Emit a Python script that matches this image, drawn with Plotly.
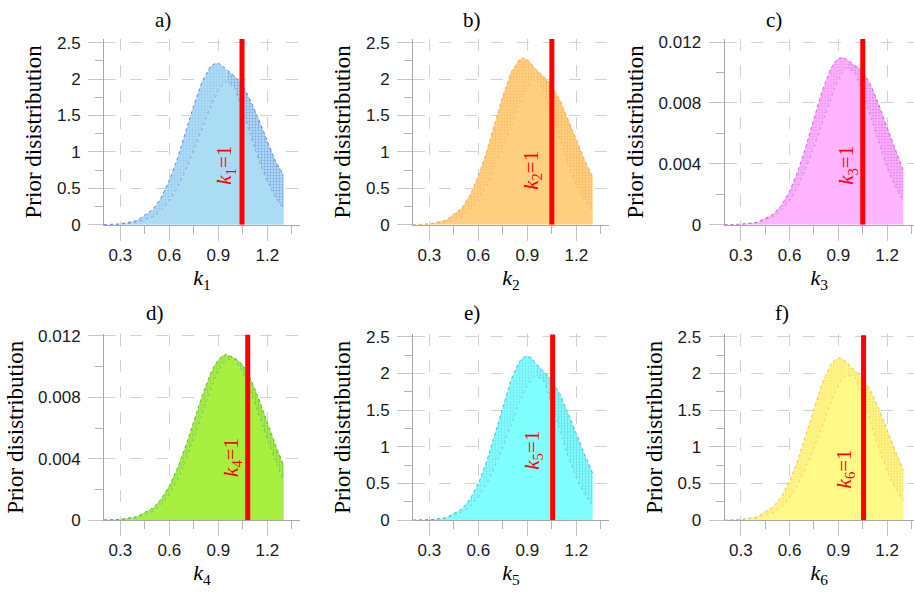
import plotly.graph_objects as go

# ---------------- data ----------------
X = [0.2, 0.3, 0.4, 0.5, 0.55, 0.6, 0.65, 0.7, 0.75, 0.8, 0.85, 0.875,
     0.9, 0.925, 0.95, 1.0, 1.05, 1.1, 1.15, 1.2, 1.25, 1.3]

# upper / lower envelopes of the family of prior curves in each panel
A_UPPER = [0.0, 0.01, 0.055, 0.21, 0.37, 0.61, 0.91, 1.27, 1.64, 1.96, 2.17, 2.21,
           2.22, 2.18, 2.13, 2.04, 1.92, 1.69, 1.43, 1.15, 0.87, 0.68]
A_LOWER = [0.0, 0.006, 0.03, 0.11, 0.20, 0.33, 0.51, 0.75, 1.03, 1.33, 1.61, 1.73,
           1.84, 1.92, 1.97, 1.88, 1.56, 1.21, 0.87, 0.59, 0.37, 0.22]

B_UPPER = [0.0, 0.01, 0.06, 0.23, 0.41, 0.67, 1.00, 1.39, 1.77, 2.09, 2.27, 2.29,
           2.27, 2.21, 2.14, 2.04, 1.91, 1.71, 1.45, 1.17, 0.89, 0.66]
B_LOWER = [0.0, 0.006, 0.03, 0.11, 0.20, 0.33, 0.52, 0.76, 1.04, 1.35, 1.64, 1.76,
           1.86, 1.95, 2.00, 1.84, 1.50, 1.14, 0.80, 0.53, 0.33, 0.19]

C_UPPER = [0.0, 0.000025, 0.00015, 0.00068, 0.00127, 0.00219, 0.00348, 0.00512,
           0.00697, 0.00877, 0.01018, 0.01066, 0.01093, 0.01099, 0.01087, 0.0105,
           0.0101, 0.00917, 0.00787, 0.00638, 0.00489, 0.00354]
C_LOWER = [0.0, 0.00002, 0.00013, 0.00052, 0.00094, 0.00157, 0.00248, 0.00368,
           0.00512, 0.0067, 0.00824, 0.00892, 0.00951, 0.00998, 0.01031, 0.01007,
           0.0087, 0.00702, 0.00528, 0.00371, 0.00244, 0.00154]

D_UPPER = [0.00001, 0.000047, 0.00022, 0.00079, 0.00137, 0.00223, 0.00339, 0.00483,
           0.00645, 0.00808, 0.00949, 0.01004, 0.01045, 0.01071, 0.0108, 0.01057,
           0.01011, 0.00916, 0.00785, 0.00637, 0.00489, 0.00357]
D_LOWER = [0.0, 0.00003, 0.00015, 0.00056, 0.001, 0.00166, 0.0026, 0.00384,
           0.00531, 0.00691, 0.00844, 0.00911, 0.00969, 0.01013, 0.01044, 0.01049,
           0.00961, 0.0083, 0.00677, 0.00521, 0.00378, 0.00259]

E_UPPER = [0.0, 0.005, 0.03, 0.15, 0.29, 0.50, 0.79, 1.16, 1.55, 1.91, 2.16, 2.22,
           2.235, 2.21, 2.14, 2.03, 1.91, 1.72, 1.46, 1.18, 0.90, 0.64]
E_LOWER = [0.0, 0.004, 0.025, 0.11, 0.19, 0.31, 0.49, 0.72, 1.00, 1.30, 1.59, 1.72,
           1.83, 1.91, 1.97, 1.90, 1.57, 1.20, 0.86, 0.57, 0.35, 0.20]

F_UPPER = [0.0, 0.008, 0.043, 0.18, 0.32, 0.53, 0.81, 1.16, 1.53, 1.86, 2.11, 2.18,
           2.21, 2.20, 2.15, 2.05, 1.94, 1.76, 1.51, 1.23, 0.94, 0.68]
F_LOWER = [0.0, 0.005, 0.026, 0.10, 0.18, 0.30, 0.48, 0.71, 0.98, 1.29, 1.58, 1.71,
           1.83, 1.92, 1.98, 1.95, 1.66, 1.31, 0.97, 0.67, 0.43, 0.26]

PANEL_TITLES = ["a)", "b)", "c)", "d)", "e)", "f)"]
PARAM_INDEX = ["1", "2", "3", "4", "5", "6"]
Y_TITLE = "Prior disistribution"
TRUE_LINE_X = [1.045, 1.05, 1.05, 1.08, 1.055, 1.055]          # red marker position
TRUE_LINE_TOP = [2.55, 2.56, 0.0123, 0.0121, 2.54, 2.52]
LABEL_POS = [(0.941, 0.81), (0.927, 0.75), (0.956, 0.0039),
             (0.982, 0.0041), (0.937, 0.95), (0.939, 0.70)]

X_TICKS = [0.3, 0.6, 0.9, 1.2]
X_TICK_TEXT = ["0.3", "0.6", "0.9", "1.2"]
X_MINOR = [0.45, 0.75, 1.05, 1.35]
Y_TICKS_BIG = [0, 0.5, 1, 1.5, 2, 2.5]
Y_TICK_TEXT_BIG = ["0", "0.5", "1", "1.5", "2", "2.5"]
Y_MINOR_BIG = [0.25, 0.75, 1.25, 1.75, 2.25]
Y_TICKS_SMALL = [0, 0.004, 0.008, 0.012]
Y_TICK_TEXT_SMALL = ["0", "0.004", "0.008", "0.012"]
Y_MINOR_SMALL = [0.002, 0.006, 0.010]

# ---------------- styles ----------------
UPPERS = [A_UPPER, B_UPPER, C_UPPER, D_UPPER, E_UPPER, F_UPPER]
LOWERS = [A_LOWER, B_LOWER, C_LOWER, D_LOWER, E_LOWER, F_LOWER]
FILLS = ["#ABDCF3", "#FFCF80", "#FFB4FF", "#A8F040", "#80FFFF", "#FFFA88"]
HATCH_LEFT = ["#7DB8F0", "#F4B060", "#D070E8", "#6DBA5D", "#70C4DC", "#F0C860"]
HATCH_RIGHT = ["#5A5FDC", "#F0A048", "#B848D0", "#4AA24A", "#4AA0C0", "#ECB040"]
SMALL_SCALE = [False, False, True, True, False, False]

W, H = 914, 601
COL_DOM = [(104 / W, 300 / W), (413 / W, 609 / W), (724.5 / W, 1.0)]
COL_RANGE = [(0.2, 1.4), (0.2, 1.4), (0.2, 1.365)]
ROW_DOM = [(1 - 224 / H, 1 - 33 / H), (1 - 528 / H, 1 - 337 / H)]
ROW_RANGE_BIG = [2.55, 2.53]
ROW_RANGE_SMALL = [0.0122, 0.0121]

TITLE_PX = [(163, 13), (472, 13), (774, 13), (155, 315), (472, 315), (782, 315)]

SPLIT = X.index(0.95)

fig = go.Figure()
annotations = []
GRID = "#D2D2D2"
AXIS = "#A8A8A8"
TICKFONT = dict(family="Liberation Sans, Arial, sans-serif", size=17, color="#1a1a1a")
SERIF = "Liberation Serif, Times New Roman, serif"

for i in range(6):
    r, c = divmod(i, 3)
    n = "" if i == 0 else str(i + 1)
    xa, ya = "x" + n, "y" + n
    up, lo = UPPERS[i], LOWERS[i]

    # solid area under the lower envelope
    fig.add_trace(go.Scatter(x=X, y=lo, mode="lines", line=dict(width=0, color=FILLS[i]),
                             fill="tozeroy", fillcolor=FILLS[i], xaxis=xa, yaxis=ya,
                             showlegend=False, hoverinfo="skip"))
    # dotted band between envelopes (left and right parts)
    for part, col in ((slice(0, SPLIT + 1), HATCH_LEFT[i]), (slice(SPLIT, None), HATCH_RIGHT[i])):
        fig.add_trace(go.Scatter(x=X[part], y=lo[part], mode="lines",
                                 line=dict(width=0, color=FILLS[i]),
                                 xaxis=xa, yaxis=ya, showlegend=False, hoverinfo="skip"))
        fig.add_trace(go.Scatter(x=X[part], y=up[part], mode="lines",
                                 line=dict(width=0, color=col),
                                 fill="tonexty", fillcolor=FILLS[i],
                                 fillpattern=dict(shape=".", fgcolor=col, bgcolor=FILLS[i],
                                                  size=3, solidity=0.3),
                                 xaxis=xa, yaxis=ya, showlegend=False, hoverinfo="skip"))
    # dotted envelope curves
    for yy, op in ((up, 0.8), (lo, 0.5)):
        fig.add_trace(go.Scatter(x=X, y=yy, mode="lines", opacity=op,
                                 line=dict(width=1, color=HATCH_RIGHT[i], dash="dot"),
                                 xaxis=xa, yaxis=ya, showlegend=False, hoverinfo="skip"))
    # red vertical marker
    fig.add_trace(go.Scatter(x=[TRUE_LINE_X[i], TRUE_LINE_X[i]], y=[0, TRUE_LINE_TOP[i]],
                             mode="lines", line=dict(width=5, color="#FF0000"),
                             xaxis=xa, yaxis=ya, showlegend=False, hoverinfo="skip"))

    small = SMALL_SCALE[i]
    yr = ROW_RANGE_SMALL[r] if small else ROW_RANGE_BIG[r]
    fig.layout["xaxis" + n] = dict(
        domain=COL_DOM[c], anchor=ya, range=list(COL_RANGE[c]),
        tickvals=X_TICKS, ticktext=X_TICK_TEXT, tickfont=TICKFONT,
        showline=True, linecolor=AXIS, linewidth=1,
        ticks="outside", ticklen=15, tickcolor="#C4C4C4", tickwidth=1,
        showgrid=True, gridcolor=GRID, gridwidth=1, griddash="12px,14px",
        zeroline=False, fixedrange=True,
        title=dict(text="<i>k</i><sub>" + PARAM_INDEX[i] + "</sub>", standoff=4,
                   font=dict(family=SERIF, size=22, color="#000")),
        minor=dict(tickvals=X_MINOR, ticks="outside", ticklen=8, tickcolor="#B4B4B4",
                   showgrid=False))
    fig.layout["yaxis" + n] = dict(
        domain=ROW_DOM[r], anchor=xa, range=[0, yr],
        tickvals=Y_TICKS_SMALL if small else Y_TICKS_BIG,
        ticktext=Y_TICK_TEXT_SMALL if small else Y_TICK_TEXT_BIG,
        tickfont=TICKFONT, ticklabelstandoff=4,
        showline=True, linecolor=AXIS, linewidth=1,
        ticks="outside", ticklen=15, tickcolor="#C4C4C4", tickwidth=1,
        showgrid=True, gridcolor=GRID, gridwidth=1, griddash="12px,14px",
        zeroline=False, fixedrange=True,
        title=dict(text=Y_TITLE, standoff=8,
                   font=dict(family=SERIF, size=23, color="#000")),
        minor=dict(tickvals=Y_MINOR_SMALL if small else Y_MINOR_BIG, ticks="outside",
                   ticklen=8, tickcolor="#B4B4B4", showgrid=False))

    # red label
    lx, ly = LABEL_POS[i]
    annotations.append(dict(x=lx, y=ly, xref=xa, yref=ya, showarrow=False, textangle=-90,
                            xanchor="center", yanchor="middle",
                            text="<i>k</i><sub>" + PARAM_INDEX[i] + "</sub>=1",
                            font=dict(family=SERIF, size=21, color="#FF0000")))
    # panel title
    tx, ty = TITLE_PX[i]
    annotations.append(dict(x=tx / W, y=1 - ty / H, xref="paper", yref="paper",
                            xanchor="center", yanchor="middle",
                            showarrow=False, text=PANEL_TITLES[i],
                            font=dict(family=SERIF, size=21, color="#000")))

fig.update_layout(width=W, height=H, margin=dict(l=0, r=0, t=0, b=0),
                  paper_bgcolor="white", plot_bgcolor="white",
                  annotations=annotations, showlegend=False)

fig.write_html("out.html")
